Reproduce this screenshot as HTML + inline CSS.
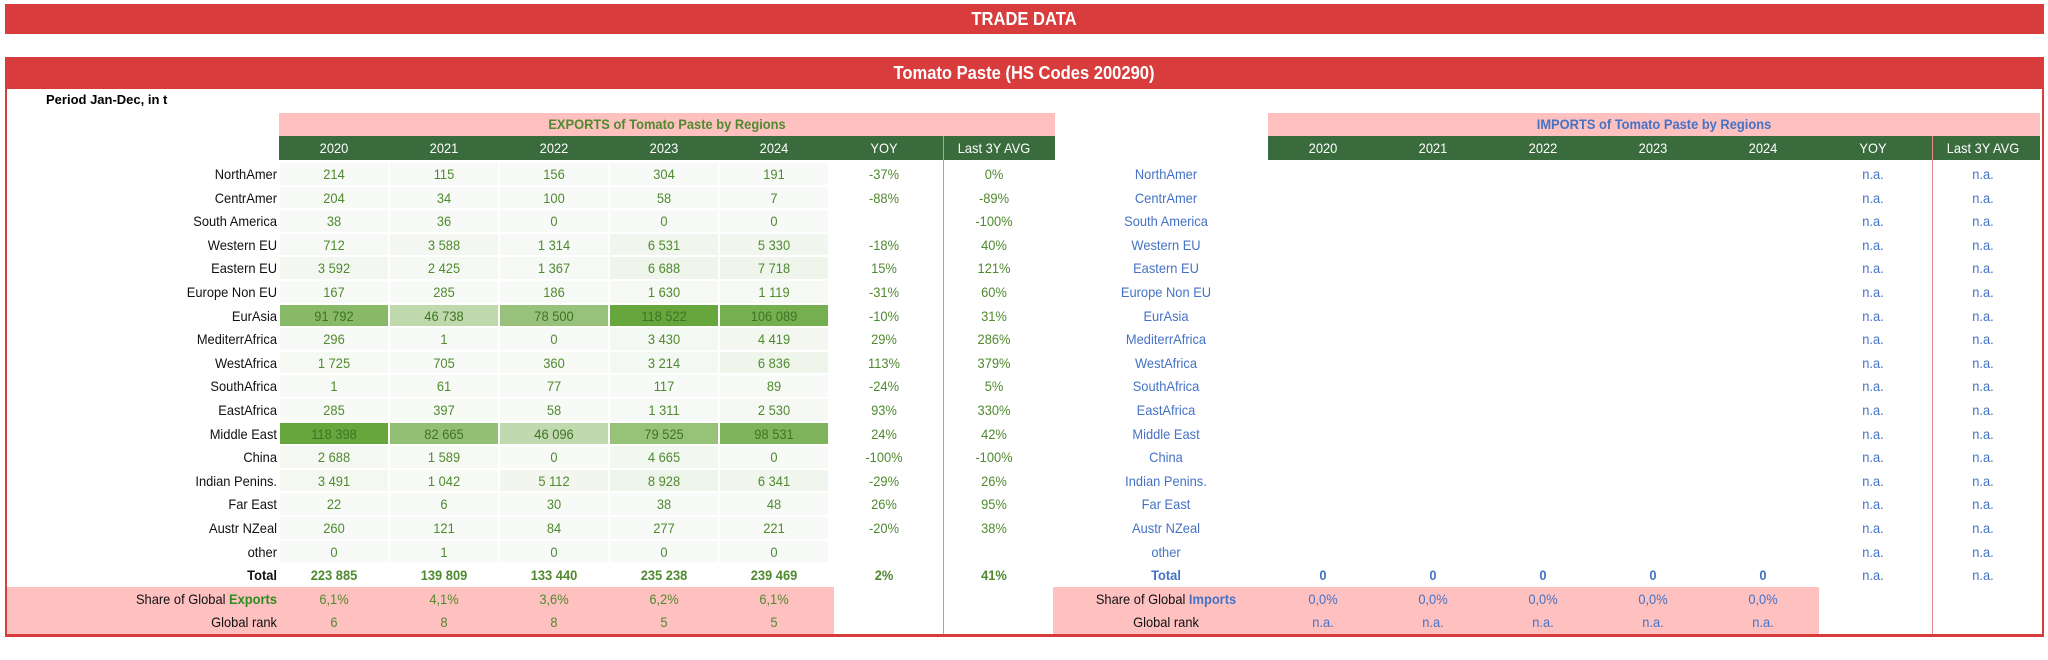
<!DOCTYPE html>
<html><head><meta charset="utf-8">
<style>
html,body{margin:0;padding:0;background:#fff;}
body{width:2048px;height:660px;position:relative;overflow:hidden;font-family:"Liberation Sans",sans-serif;}
.a{position:absolute;box-sizing:border-box;}
.t{position:absolute;white-space:nowrap;font-size:14px;line-height:24px;height:24px;}
.c{text-align:center;transform:translateX(-50%) scaleX(0.92);}
.r{text-align:right;transform:translateX(-100%) scaleX(0.92);transform-origin:right center;}
.g{color:#4f8a2f;}
.b{color:#4472c4;}
.k{color:#111;}
</style></head><body>
<div class="a" style="left:5px;top:4px;width:2039px;height:30px;background:#d93c3c;"></div>
<div class="t c" style="left:1024px;top:7px;color:#fff;font-weight:bold;font-size:18px;">TRADE DATA</div>
<div class="a" style="left:5px;top:57px;width:2039px;height:580px;border:2px solid #d93c3c;border-bottom:3px solid #d93c3c;"></div>
<div class="a" style="left:5px;top:57px;width:2039px;height:32px;background:#d93c3c;"></div>
<div class="t c" style="left:1024px;top:61px;color:#fff;font-weight:bold;font-size:18px;">Tomato Paste (HS Codes 200290)</div>
<div class="t" style="left:46px;top:88px;font-weight:bold;font-size:13px;color:#000;">Period Jan-Dec, in t</div>

<div class="a" style="left:279px;top:113px;width:776px;height:23px;background:#ffc0c0;"></div>
<div class="t c g" style="left:667px;top:112px;font-weight:bold;">EXPORTS of Tomato Paste by Regions</div>
<div class="a" style="left:279px;top:136px;width:776px;height:24px;background:#3a6b3c;"></div>
<div class="a" style="left:1268px;top:113px;width:772px;height:23px;background:#ffc0c0;"></div>
<div class="t c b" style="left:1654px;top:112px;font-weight:bold;">IMPORTS of Tomato Paste by Regions</div>
<div class="a" style="left:1268px;top:136px;width:772px;height:24px;background:#3a6b3c;"></div>

<div class="a" style="left:7px;top:587px;width:827px;height:47px;background:#ffc0c0;"></div>
<div class="a" style="left:1053px;top:587px;width:766px;height:47px;background:#ffc0c0;"></div>
<div class="a" style="left:943px;top:136px;width:1px;height:498px;background:#e88a8a;"></div>
<div class="a" style="left:1932px;top:136px;width:1px;height:498px;background:#e88a8a;"></div>

<div id="root"></div>
<script>
const regions=["NorthAmer","CentrAmer","South America","Western EU","Eastern EU","Europe Non EU","EurAsia","MediterrAfrica","WestAfrica","SouthAfrica","EastAfrica","Middle East","China","Indian Penins.","Far East","Austr NZeal","other"];
const years=["2020","2021","2022","2023","2024"];
const exp2020=[214,204,38,712,3592,167,91792,296,1725,1,285,118398,2688,3491,22,260,0];
const exp2021=[115,34,36,3588,2425,285,46738,1,705,61,397,82665,1589,1042,6,121,1];
const exp2022=[156,100,0,1314,1367,186,78500,0,360,77,58,46096,0,5112,30,84,0];
const exp2023=[304,58,0,6531,6688,1630,118522,3430,3214,117,1311,79525,4665,8928,38,277,0];
const exp2024=[191,7,0,5330,7718,1119,106089,4419,6836,89,2530,98531,0,6341,48,221,0];
const expYoy=["-37%","-88%","","-18%","15%","-31%","-10%","29%","113%","-24%","93%","24%","-100%","-29%","26%","-20%",""];
const expAvg=["0%","-89%","-100%","40%","121%","60%","31%","286%","379%","5%","330%","42%","-100%","26%","95%","38%",""];
const expTotal=[223885,139809,133440,235238,239469];
const expTotalYoy="2%", expTotalAvg="41%";
const expShare=["6,1%","4,1%","3,6%","6,2%","6,1%"];
const expRank=["6","8","8","5","5"];
const impTotal=[0,0,0,0,0];
const impShare=["0,0%","0,0%","0,0%","0,0%","0,0%"];
const impRank=["n.a.","n.a.","n.a.","n.a.","n.a."];

const expCols=[exp2020,exp2021,exp2022,exp2023,exp2024];
const root=document.getElementById('root');
const rowY=i=>162+23.6*i;
const expX=j=>279+110*j;
const impX=j=>1268+110*j;
const fmt=v=>String(v).replace(/\B(?=(\d{3})+(?!\d))/g,' ');
const maxV=Math.max(...expCols.flat());
function heat(v){const f=v/maxV;const a=[248,250,247],b=[103,166,60];return 'rgb('+a.map((x,k)=>Math.round(x+(b[k]-x)*f)).join(',')+')';}
function txt(name,s,x,y,cls,extra){const d=document.createElement('div');d.className='t '+cls;d.textContent=s;d.style.left=x+'px';d.style.top=y+'px';if(extra)d.style.cssText+=extra;


root.appendChild(d);return d;}
function box(name,x,y,w,h,bg){const d=document.createElement('div');d.className='a';d.style.cssText='left:'+x+'px;top:'+y+'px;width:'+w+'px;height:'+h+'px;background:'+bg;


root.appendChild(d);}
const hdr=["YOY","Last 3Y AVG"];
years.concat(hdr).forEach((h,j)=>{
  txt('exports-header-'+h.toLowerCase().replace(/ /g,'-'),h,expX(j)+55,136,'c','color:#fff;');
  txt('imports-header-'+h.toLowerCase().replace(/ /g,'-'),h,impX(j)+55,136,'c','color:#fff;');
});
regions.forEach((r,i)=>{
  const y=rowY(i);
  txt('export-region-label',r,277,y,'r k');
  expCols.forEach((col,j)=>{
    const v=col[i];
    box('export-cell',expX(j)+1,y+1,108,21.6,heat(v));
    txt('export-value',fmt(v),expX(j)+55,y,'c g',v>40000?'color:#3f7424;':'');
  });
  txt('export-yoy',expYoy[i],expX(5)+55,y,'c g');
  txt('export-avg',expAvg[i],expX(6)+55,y,'c g');
  txt('import-region-label',r,1166,y,'c b');
  txt('import-yoy','n.a.',impX(5)+55,y,'c b');
  txt('import-avg','n.a.',impX(6)+55,y,'c b');
});
const ty=rowY(17);
txt('export-total-label','Total',277,ty,'r k','font-weight:bold;');
expTotal.forEach((v,j)=>txt('export-total',fmt(v),expX(j)+55,ty,'c g','font-weight:bold;'));
txt('export-total-yoy',expTotalYoy,expX(5)+55,ty,'c g','font-weight:bold;');
txt('export-total-avg',expTotalAvg,expX(6)+55,ty,'c g','font-weight:bold;');
txt('import-total-label','Total',1166,ty,'c b','font-weight:bold;');
impTotal.forEach((v,j)=>txt('import-total',fmt(v),impX(j)+55,ty,'c b','font-weight:bold;'));
txt('import-total-yoy','n.a.',impX(5)+55,ty,'c b');
txt('import-total-avg','n.a.',impX(6)+55,ty,'c b');
const sy=rowY(18), ry=rowY(19);
const s1=txt('export-share-label','',277,sy,'r k');s1.innerHTML='Share of Global <b style="color:#2e8b1e">Exports</b>';
txt('export-rank-label','Global rank',277,ry,'r k');
expShare.forEach((v,j)=>txt('export-share',v,expX(j)+55,sy,'c g'));
expRank.forEach((v,j)=>txt('export-rank',v,expX(j)+55,ry,'c g'));
const s2=txt('import-share-label','',1166,sy,'c k');s2.innerHTML='Share of Global <b style="color:#4472c4">Imports</b>';
txt('import-rank-label','Global rank',1166,ry,'c k');
impShare.forEach((v,j)=>txt('import-share',v,impX(j)+55,sy,'c b'));
impRank.forEach((v,j)=>txt('import-rank',v,impX(j)+55,ry,'c b'));
</script>
</body></html>
